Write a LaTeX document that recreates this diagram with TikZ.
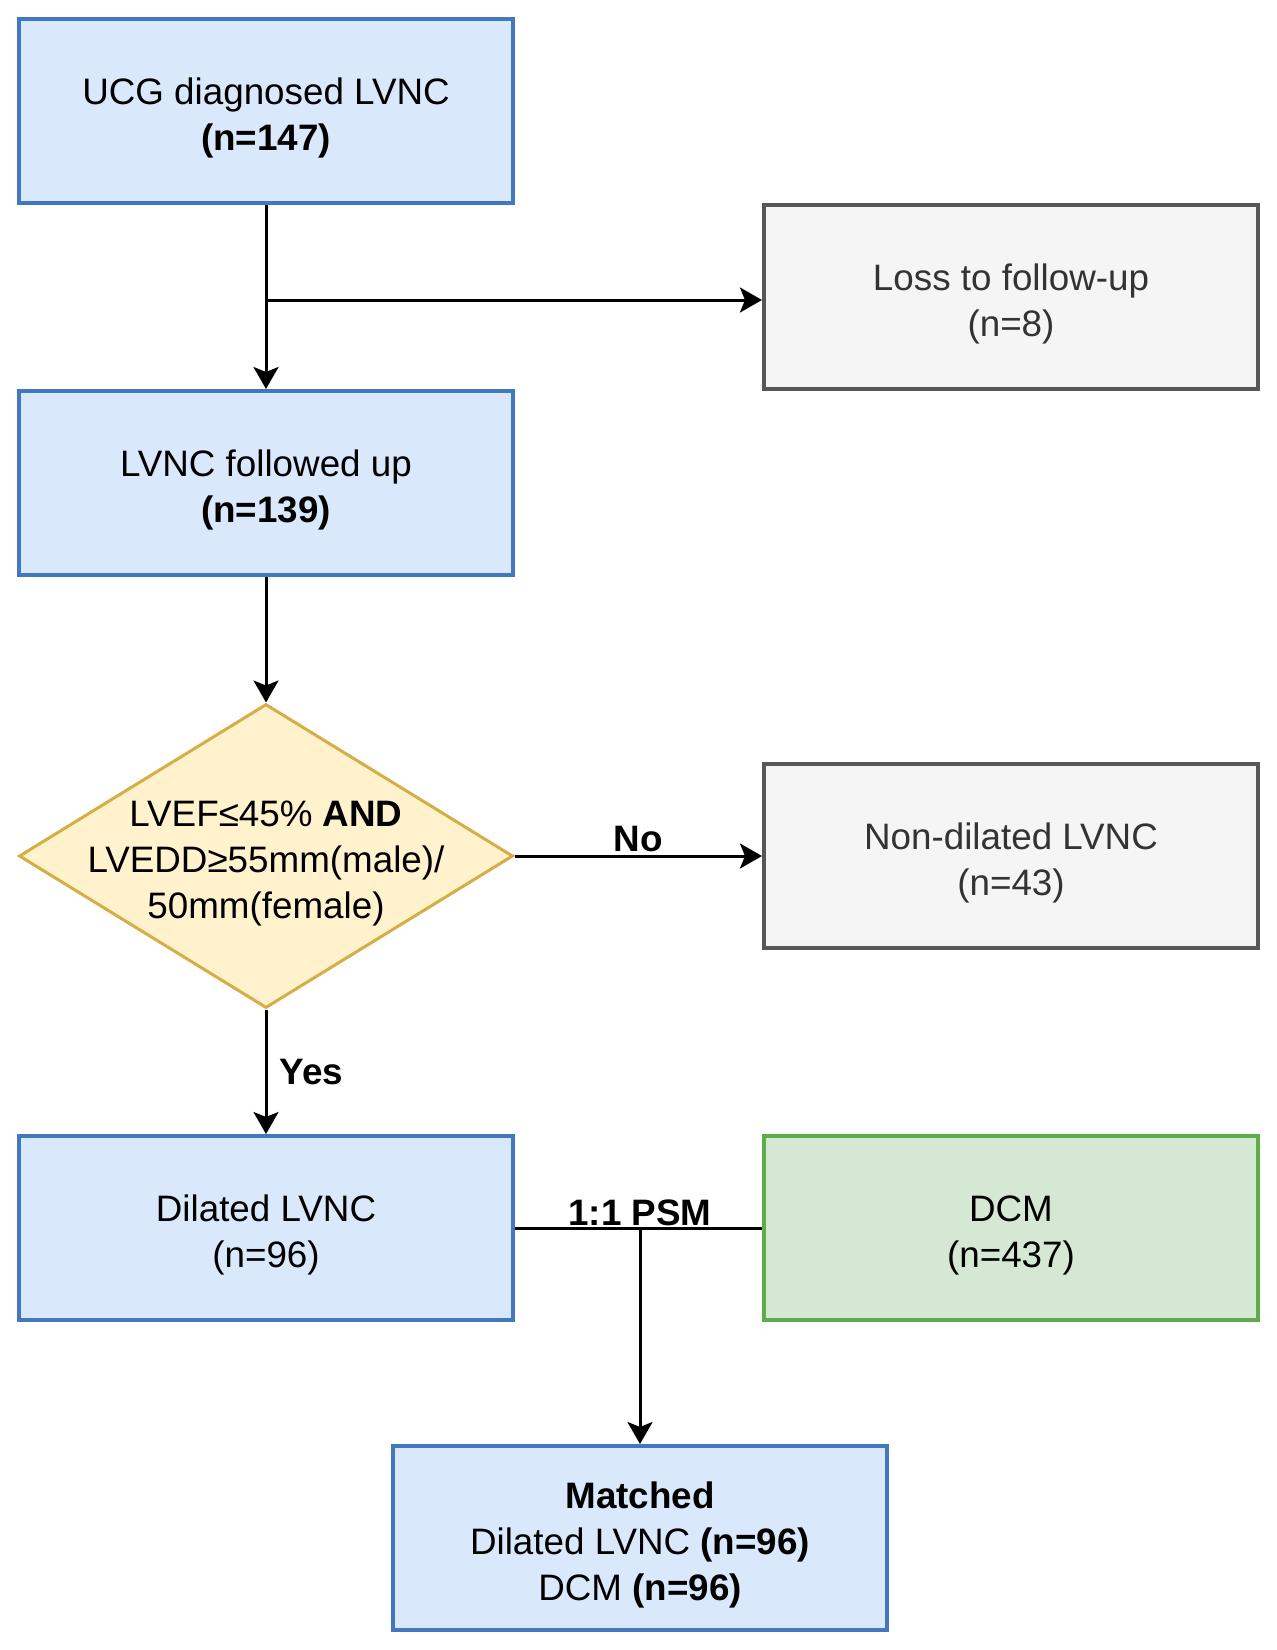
\documentclass[tikz,border=0pt]{standalone}
\usepackage{fontspec}
\setmainfont{Liberation Sans}
\usetikzlibrary{arrows.meta,shapes.geometric}
\definecolor{bfill}{HTML}{DAE8FC}
\definecolor{bdraw}{HTML}{4178BE}
\definecolor{gfill}{HTML}{F5F5F5}
\definecolor{gdraw}{HTML}{575757}
\definecolor{gtext}{HTML}{333333}
\definecolor{yfill}{HTML}{FFF2CC}
\definecolor{ydraw}{HTML}{D6AE45}
\definecolor{grfill}{HTML}{D5E8D4}
\definecolor{grdraw}{HTML}{5DAE4B}
\newcommand{\lowerstrut}{\rule{0pt}{40pt}}
\begin{document}
\begin{tikzpicture}[x=1pt,y=-1pt,
  every node/.style={font=\fontsize{36.8}{46}\selectfont, align=center, inner sep=0pt},
  boxbase/.style={rectangle, line width=4pt, minimum width=494pt, minimum height=184pt},
  bluebox/.style={boxbase, fill=bfill, draw=bdraw},
  graybox/.style={boxbase, fill=gfill, draw=gdraw, text=gtext},
  greenbox/.style={boxbase, fill=grfill, draw=grdraw},
  decision/.style={diamond, fill=yfill, draw=ydraw, line width=3pt,
    minimum width=494pt, minimum height=304pt},
  conn/.style={line width=3pt, -{Stealth[length=22pt,width=25pt,inset=5pt]}},
  plainconn/.style={line width=3pt},
  lbl/.style={font=\fontsize{36.8}{46}\selectfont\bfseries}
]
\useasboundingbox (0,0) rectangle (1277,1650);

\node[bluebox] (ucg) at (266,111) {\lowerstrut UCG diagnosed LVNC\\\textbf{(n=147)}};
\node[graybox] (loss) at (1011,297) {\lowerstrut Loss to follow-up\\(n=8)};
\node[bluebox] (fu) at (266,483) {\lowerstrut LVNC followed up\\\textbf{(n=139)}};
\node[decision] (dec) at (266,856) {};
\node (dectext) at (dec.center) {\lowerstrut LVEF≤45\% \textbf{AND}\\LVEDD≥55mm(male)/\\50mm(female)};
\node[graybox] (nondil) at (1011,856) {\lowerstrut Non-dilated LVNC\\(n=43)};
\node[bluebox] (dil) at (266,1228) {\lowerstrut Dilated LVNC\\(n=96)};
\node[greenbox] (dcm) at (1011,1228) {\lowerstrut DCM\\(n=437)};
\node[bluebox] (match) at (640,1538) {\lowerstrut\textbf{Matched}\\Dilated LVNC \textbf{(n=96)}\\DCM \textbf{(n=96)}};

\coordinate (split) at (266,300);
\coordinate (psm) at (640,1228);

\draw[conn] (ucg.south) -- (fu.north);
\draw[conn] (split) -- (split -| loss.west);
\draw[conn] (fu.south) -- (dec.north);
\draw[conn] (dec.east) -- node[lbl, above=3pt] {No} (nondil.west);
\draw[conn] (dec.south) -- node[lbl, right=12pt, pos=0.5] {Yes} (dil.north);
\draw[plainconn] (dil.east) -- (dcm.west);
\node[lbl, above=2pt] (psmlbl) at (psm) {1:1 PSM};
\draw[conn] (psm) -- (match.north);
\end{tikzpicture}
\end{document}
